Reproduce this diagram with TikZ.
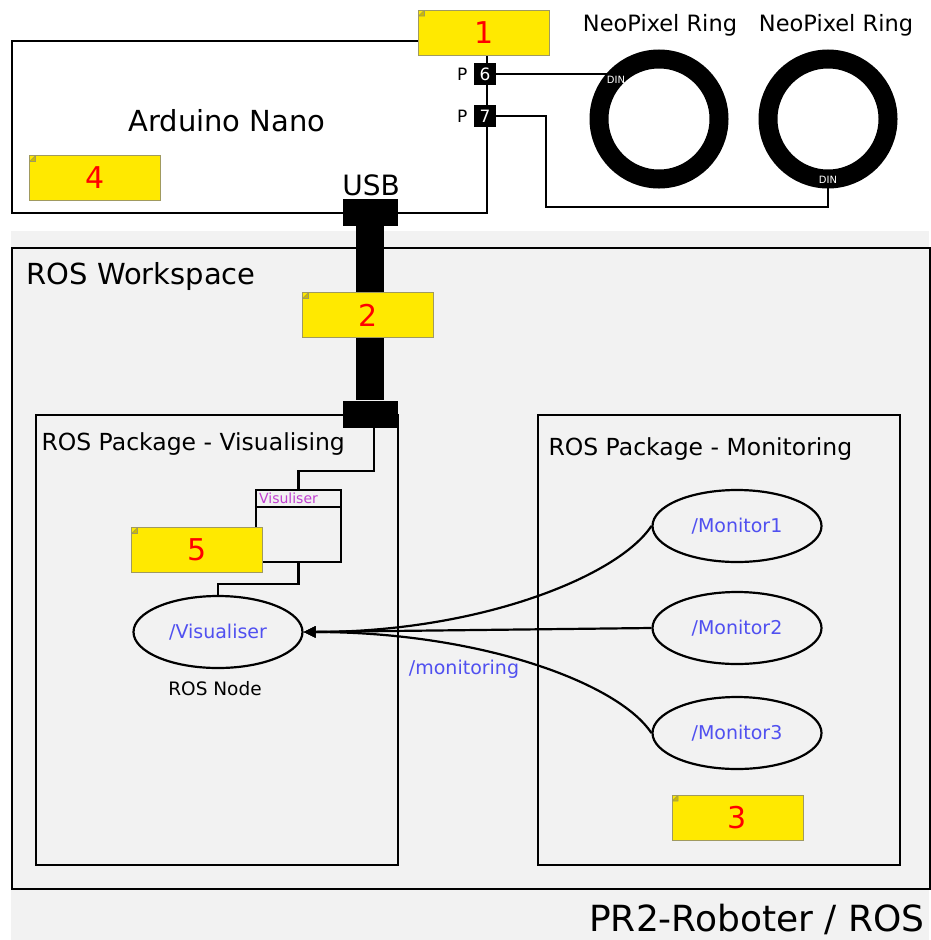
\documentclass[tikz,border=0pt]{standalone}
\usepackage{fontspec}
\setmainfont{DejaVu Sans}
\usetikzlibrary{arrows.meta,positioning,calc,shapes.geometric}
\definecolor{noteyellow}{HTML}{FFE900}
\definecolor{noteline}{HTML}{A09A60}
\definecolor{rosblue}{HTML}{5050F0}
\definecolor{rospink}{HTML}{C040D0}
\definecolor{wsgrey}{HTML}{F2F2F2}
\newcommand{\fsz}[1]{\fontsize{#1}{#1}\selectfont}

\begin{document}
\begin{tikzpicture}[x=1pt,y=-1pt,
  framebox/.style={draw,line width=2.4pt,inner sep=0pt,anchor=north west},
  wire/.style={draw,line width=2.4pt},
  note/.style={fill=noteyellow,draw=noteline,line width=0.6pt,inner sep=0pt,
    minimum width=131pt,minimum height=45pt,text=red,font=\fsz{30},
    path picture={\draw[noteline,fill=noteyellow!80!black] ([yshift=-6pt]path picture bounding box.north west) -- ([xshift=6pt]path picture bounding box.north west) -- ([xshift=6pt,yshift=-6pt]path picture bounding box.north west) -- cycle;}},
  pinbox/.style={fill=black,text=white,inner sep=0pt,minimum size=22pt,font=\fsz{17}},
  ring/.style={circle,draw,line width=19pt,inner sep=0pt,outer sep=0pt,minimum size=120pt},
  din/.style={text=white,font=\fsz{10},inner sep=0pt},
  plug/.style={fill=black,inner sep=0pt,minimum width=55pt,minimum height=27pt},
  rosnode/.style={ellipse,draw,line width=2.2pt,inner sep=0pt,minimum width=169pt,minimum height=72pt,text=rosblue,font=\fsz{19}},
  flow/.style={line width=2.2pt,-{Triangle[length=12pt,width=11pt]}}]
\useasboundingbox (0,0) rectangle (931,940);
\fill[wsgrey] (11,231) rectangle (929,940);

\node[framebox,fill=white,minimum width=475pt,minimum height=172pt] (nano) at (11,40) {};
\node[font=\fsz{29}] (nanolbl) at (227,121) {Arduino Nano};
\node[note] (note4) at (95,178) {4};

\coordinate (bend7a) at (546,116);
\coordinate (bend7b) at (828,207);
\node[ring] (ring1) at (659,119) {};
\node[ring] (ring2) at (828,119) {};
\node[pinbox] (p6) at (485,74) {6};
\node[pinbox] (p7) at (485,116) {7};
\node[font=\fsz{17},left=3pt of p6] (p6lbl) {P};
\node[font=\fsz{17},left=3pt of p7] (p7lbl) {P};
\draw[wire] (p6.east) -- (p6.east -| ring1.136);
\draw[wire] (p7.east) -- (bend7a) |- (bend7b) -- (ring2.south);
\node[din] (din1) at (616,80) {DIN};
\node[din] (din2) at (828,180) {DIN};
\node[font=\fsz{22.5}] (ring1lbl) at (660,25) {NeoPixel Ring};
\node[font=\fsz{22.5}] (ring2lbl) at (836,25) {NeoPixel Ring};
\node[note] (note1) at (484,32.5) {1};

\node[framebox,fill=wsgrey,minimum width=918pt,minimum height=641pt] (ws) at (11,247) {};
\node[font=\fsz{29},anchor=base west] (wslbl) at (23,284) {ROS Workspace};
\node[font=\fsz{36},anchor=base east] (pr2lbl) at (928,931) {PR2-Roboter / ROS};

\node[framebox,minimum width=362pt,minimum height=450pt] (pkgvis) at (35,414) {};
\node[font=\fsz{23.5},anchor=base west] (pkgvislbl) at (38,450) {ROS Package - Visualising};
\node[framebox,minimum width=362pt,minimum height=450pt] (pkgmon) at (537,414) {};
\node[font=\fsz{23.5},anchor=base west] (pkgmonlbl) at (545,455) {ROS Package - Monitoring};

\node[plug] (usbtop) at (370,212) {};
\node[plug] (usbbot) at (370,414) {};
\draw[line width=28pt] (usbtop) -- (usbbot);
\node[font=\fsz{28}] (usblbl) at (371,185) {USB};
\node[note] (note2) at (368,315) {2};

\node[draw,line width=2.2pt,inner sep=0pt,minimum width=85pt,minimum height=72pt] (visbox) at (298.5,526) {};
\draw[line width=2.2pt] ([yshift=-18pt]visbox.north west) -- ([yshift=-18pt]visbox.north east);
\node[anchor=west,text=rospink,font=\fsz{14},inner sep=0pt] (visboxlbl) at ([xshift=4pt,yshift=-9pt]visbox.north west) {Visuliser};
\draw[wire] ([xshift=4pt]usbbot.south) -- ++(0,43) -| (visbox.north);
\node[note] (note5) at (197,550) {5};
\node[rosnode] (vis) at (218,632) {/Visualiser};
\draw[wire] (visbox.south) -- ++(0,21) -| (vis.north);
\node[font=\fsz{18.5}] (roslbl) at (215,689) {ROS Node};

\node[rosnode] (mon1) at (737,526) {/Monitor1};
\node[rosnode] (mon2) at (737,628) {/Monitor2};
\node[rosnode] (mon3) at (737,733) {/Monitor3};
\draw[flow] (mon1.west) .. controls +(-33,50) and +(177,0) .. (vis.east);
\draw[flow] (mon2.west) -- (vis.east);
\draw[flow] (mon3.west) .. controls +(-33,-50) and +(177,0) .. (vis.east);
\node[text=rosblue,font=\fsz{19}] (topiclbl) at (464,669) {/monitoring};
\node[note] (note3) at (737.5,817.5) {3};
\end{tikzpicture}
\end{document}
